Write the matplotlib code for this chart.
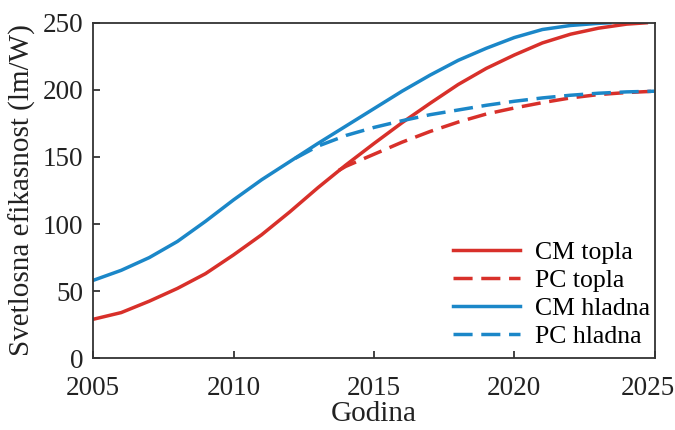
import matplotlib.pyplot as plt
from matplotlib.transforms import ScaledTranslation

# Values
cm_topla_god = [2005, 2006, 2007, 2008, 2009, 2010, 2011, 2012, 2013, 2014, 2015,
                2016, 2017, 2018, 2019, 2020, 2021, 2022, 2023, 2024, 2024.7]
cm_topla = [29, 34, 42.5, 52, 63, 77, 92, 109, 127, 144, 160,
            175.5, 190, 204, 216, 226, 235, 241.5, 246, 249, 250]

pc_topla_god = [2013.75, 2014, 2015, 2016, 2017, 2018, 2019, 2020, 2021, 2022, 2023, 2024, 2025]
pc_topla = [140, 143, 152, 161, 169, 176, 182, 186.5, 190.5, 194, 196.5, 198, 199]

cm_hladna_god = [2005, 2006, 2007, 2008, 2009, 2010, 2011, 2012, 2013, 2014, 2015,
                 2016, 2017, 2018, 2019, 2020, 2021, 2022, 2023, 2023.4]
cm_hladna = [58, 65.5, 75, 87, 102, 118, 133, 146.5, 160, 173, 186,
             199, 211, 222, 231, 239, 245, 248, 249.6, 250]

pc_hladna_god = [2012.2, 2013, 2014, 2015, 2016, 2017, 2018, 2019, 2020, 2021, 2022, 2023, 2024, 2025]
pc_hladna = [149, 158, 166, 172, 177, 181.5, 185, 188.5, 191.5, 194, 196, 197.5, 198.5, 199]

x_ticks = [2005, 2010, 2015, 2020, 2025]
y_ticks = [0, 50, 100, 150, 200, 250]

red = '#d8302a'
blue = '#1b87c8'

plt.rcParams['font.family'] = ['Liberation Serif', 'DejaVu Serif']

fig = plt.figure(figsize=(6.75, 4.3), dpi=100)
ax = fig.add_axes([0.138, 0.167, 0.832, 0.78])

lw = 2.5
dash = (0, (5.5, 2.5))
ax.plot(cm_topla_god, cm_topla, color=red, lw=lw, label='CM topla')
ax.plot(pc_topla_god, pc_topla, color=red, lw=lw, ls=dash, label='PC topla')
ax.plot(cm_hladna_god, cm_hladna, color=blue, lw=lw, label='CM hladna')
ax.plot(pc_hladna_god, pc_hladna, color=blue, lw=lw, ls=dash, label='PC hladna')

ax.set_xlim(2005, 2025)
ax.set_ylim(0, 250)
ax.set_xticks(x_ticks)
ax.set_yticks(y_ticks)
ax.tick_params(direction='in', length=5, width=1.2, labelsize=19.5, colors='#222222')
ax.tick_params(axis='y', pad=7)
ax.tick_params(axis='x', pad=13)
for s in ax.spines.values():
    s.set_color('#333333')
    s.set_linewidth(1.3)

# last year label is nudged left so it stays inside the figure
last = ax.get_xticklabels()[-1]
last.set_transform(last.get_transform() + ScaledTranslation(-7 / 100, 0, fig.dpi_scale_trans))

ax.set_xlabel('Godina', fontsize=21, color='#222222', labelpad=0)
ax.set_ylabel('Svetlosna efikasnost (lm/W)', fontsize=21, color='#222222', labelpad=5)

ax.legend(loc='lower right', frameon=False, fontsize=18.5, handlelength=2.6,
          handletextpad=0.6, labelspacing=0.2, borderaxespad=0.0,
          bbox_to_anchor=(1.01, 0.0))

fig.savefig('out.png', dpi=100)
